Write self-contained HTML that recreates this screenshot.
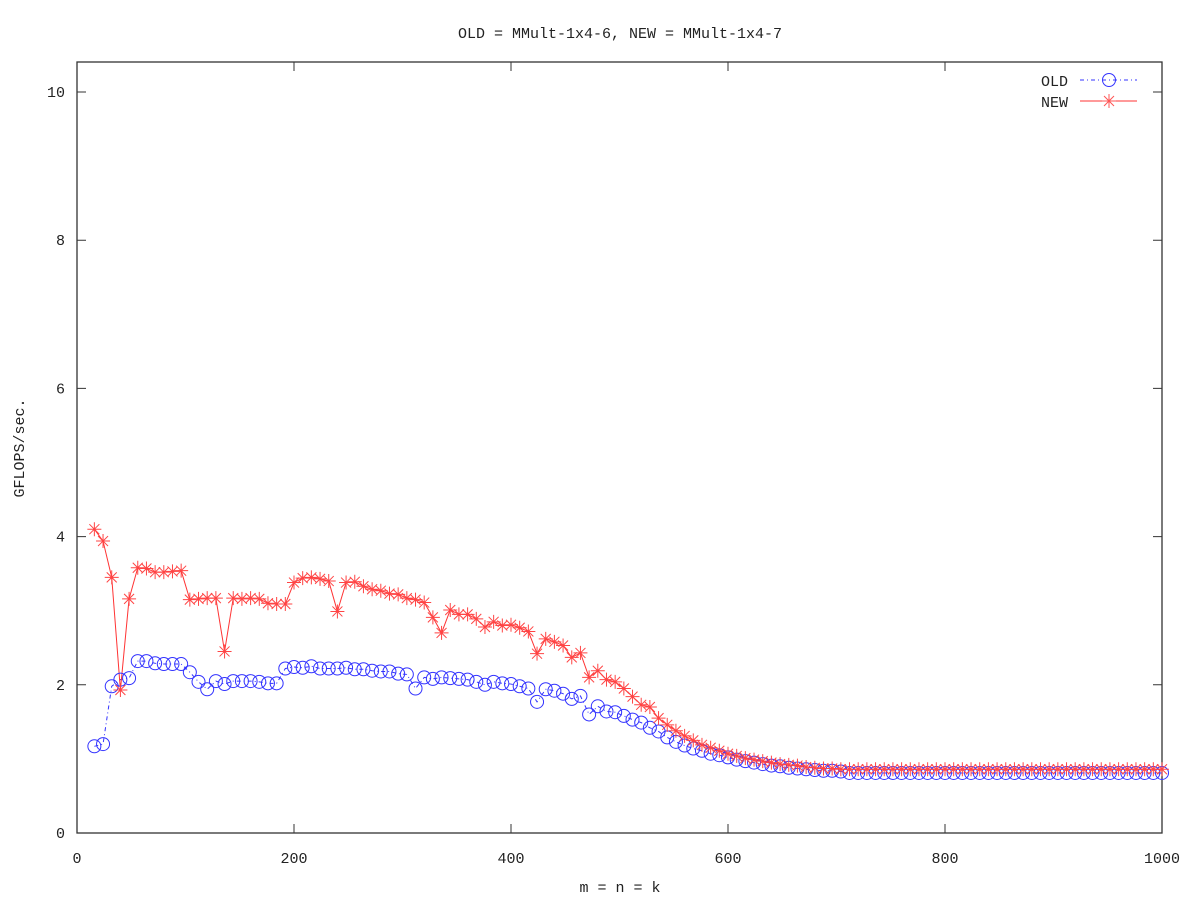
<!DOCTYPE html>
<html><head><meta charset="utf-8"><style>
body{margin:0;background:#fff}
svg text{font-family:"Liberation Mono","DejaVu Sans Mono",monospace;font-size:15px;fill:#222}
</style></head><body>
<svg id="chart" width="1200" height="900" xmlns="http://www.w3.org/2000/svg">
<text x="620" y="38" text-anchor="middle">OLD = MMult-1x4-6, NEW = MMult-1x4-7</text>
<text x="620" y="892" text-anchor="middle">m = n = k</text>
<text transform="translate(24,448) rotate(-90)" text-anchor="middle">GFLOPS/sec.</text>
<g id="axes"></g>
<g id="series"></g>
<g>
<text x="1068" y="86" text-anchor="end">OLD</text>
<line x1="1080" y1="80" x2="1137" y2="80" stroke="#3333ff" stroke-dasharray="4,3,1,3"/>
<circle cx="1109" cy="80" r="6.5" fill="none" stroke="#3333ff"/>
<text x="1068" y="107" text-anchor="end">NEW</text>
<line x1="1080" y1="101" x2="1137" y2="101" stroke="#ff3333"/>
<path d="M1102,101h14M1109,94v14M1104,96l10,10M1104,106l10,-10" stroke="#ff5555" fill="none"/>
</g>
</svg>
<script>
const xTicks=[0,200,400,600,800,1000];
const yTicks=[0,2,4,6,8,10];
const newVals=[4.10,3.94,3.45,1.93,3.16,3.58,3.57,3.52,3.52,3.53,3.54,3.15,3.16,3.17,3.17,2.45,3.17,3.16,3.17,3.16,3.10,3.09,3.09,3.38,3.44,3.45,3.43,3.40,2.99,3.38,3.39,3.33,3.29,3.27,3.23,3.22,3.17,3.15,3.11,2.91,2.70,3.01,2.95,2.95,2.89,2.78,2.85,2.80,2.81,2.77,2.72,2.42,2.62,2.58,2.53,2.37,2.43,2.10,2.19,2.07,2.04,1.95,1.84,1.73,1.70,1.55,1.46,1.38,1.31,1.25,1.19,1.15,1.11,1.07,1.04,1.01,0.99,0.97,0.95,0.93,0.92,0.91,0.89,0.88,0.87,0.87];
const oldVals=[1.17,1.20,1.98,2.07,2.09,2.32,2.32,2.29,2.28,2.28,2.28,2.17,2.04,1.94,2.05,2.01,2.05,2.05,2.05,2.04,2.02,2.02,2.22,2.24,2.23,2.25,2.22,2.22,2.22,2.23,2.21,2.21,2.19,2.18,2.18,2.15,2.14,1.95,2.10,2.08,2.10,2.09,2.08,2.07,2.04,2.00,2.04,2.02,2.01,1.98,1.95,1.77,1.94,1.92,1.88,1.81,1.85,1.60,1.71,1.64,1.63,1.58,1.53,1.49,1.42,1.37,1.29,1.23,1.18,1.14,1.11,1.07,1.05,1.02,0.99,0.97,0.95,0.93,0.91,0.90,0.88,0.87,0.86,0.85,0.84,0.84,0.83];
const newTail=0.86, oldTail=0.81;
const sizes=[];for(let s=16;s<=1000;s+=8)sizes.push(s);
const NS="http://www.w3.org/2000/svg";
const L=77,R=1162,T=62,B=833;
const X=v=>L+(v-0)/1000*(R-L);
const Y=v=>B-v/10*(B-92);
const axes=document.getElementById('axes'),ser=document.getElementById('series');
function mk(tag,attrs,parent){const e=document.createElementNS(NS,tag);for(const k in attrs)e.setAttribute(k,attrs[k]);parent.appendChild(e);return e;}
const frame=mk('rect',{x:L,y:T,width:R-L,height:B-T,fill:'none',stroke:'#333','stroke-width':1.3},axes);


xTicks.forEach(t=>{
 const g=mk('path',{d:`M${X(t)},${B}v-9M${X(t)},${T}v9`,stroke:'#333'},axes);
 
 
 const tx=mk('text',{x:X(t),y:B+30,'text-anchor':'middle'},axes);tx.textContent=t;
 
 
});
yTicks.forEach(t=>{
 const g=mk('path',{d:`M${L},${Y(t)}h9M${R},${Y(t)}h-9`,stroke:'#333'},axes);
 
 
 const tx=mk('text',{x:L-12,y:Y(t)+5,'text-anchor':'end'},axes);tx.textContent=t;
 
 
});
const oldFull=sizes.map((s,i)=>i<oldVals.length?oldVals[i]:oldTail);
const newFull=sizes.map((s,i)=>i<newVals.length?newVals[i]:newTail);
function line(vals,color,dash,name){
 const p=mk('polyline',{points:vals.map((v,i)=>X(sizes[i])+','+Y(v)).join(' '),fill:'none',stroke:color,'stroke-dasharray':dash},ser);
 
 
}
line(oldFull,'#3333ff','4,3,1,3','old-line');
line(newFull,'#ff3333','none','new-line');
oldFull.forEach((v,i)=>{
 const c=mk('circle',{cx:X(sizes[i]),cy:Y(v),r:6.5,fill:'none',stroke:'#3333ff'},ser);
 
 
});
newFull.forEach((v,i)=>{
 const x=X(sizes[i]),y=Y(v);
 const p=mk('path',{d:`M${x-7},${y}h14M${x},${y-7}v14M${x-5},${y-5}l10,10M${x-5},${y+5}l10,-10`,stroke:'#ff4444',fill:'none'},ser);
 
 
});
</script>
</body></html>
